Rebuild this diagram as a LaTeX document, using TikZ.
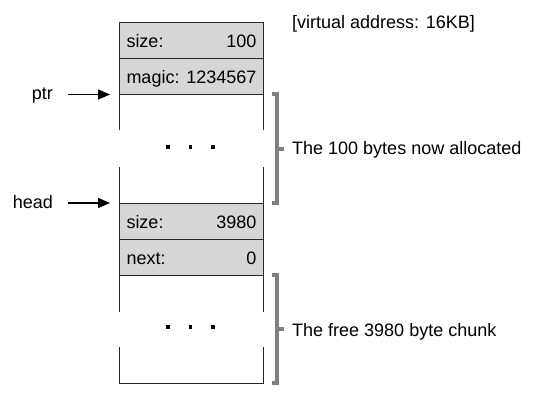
\documentclass[tikz,border=0pt]{standalone}
\usepackage{fontspec}
\setmainfont{Liberation Sans}
\usetikzlibrary{arrows.meta,positioning}

\begin{document}
\begin{tikzpicture}[x=1pt,y=-1pt,>={Triangle[length=12pt,width=10pt]},
                    cell/.style={draw=black!85,line width=1pt,fill=black!16,anchor=north west,
                                 minimum width=144pt,minimum height=36pt,inner sep=0pt,
                                 text width=130pt,text height=14pt,text depth=0pt},
                    lbl/.style={inner sep=0pt,font=\fontsize{18}{22}\selectfont},
                    side/.style={draw=black!85,line width=1pt},
                    brace/.style={draw=black!50,line width=3.2pt},
                    ptrarrow/.style={->,line width=1.6pt}]
	\useasboundingbox (0,0) rectangle (536,401);
	% header cells of the allocated chunk
	\node[cell,font=\fontsize{18}{22}\selectfont]	(size1)	at (119,22)	{size:\hfill 100};
	\node[cell,font=\fontsize{18}{22}\selectfont]	(magic)	at (119,58)	{magic:\hfill 1234567};
	% header cells of the free chunk
	\node[cell,font=\fontsize{18}{22}\selectfont]	(size2)	at (119,203)	{size:\hfill 3980};
	\node[cell,font=\fontsize{18}{22}\selectfont]	(next)	at (119,239)	{next:\hfill 0};
	% the two open regions
	\draw[side] (119,94) -- (119,130) (263,94) -- (263,130)
	            (119,167) -- (119,203) (263,167) -- (263,203);
	\draw[side] (119,275) -- (119,312) (263,275) -- (263,312)
	            (119,347) -- (119,383) -- (263,383) -- (263,347);
	\foreach \x in {168,190.5,213}
	{
		\fill (\x-1.8,145.2) rectangle (\x+1.8,148.8);
		\fill (\x-1.8,325.2) rectangle (\x+1.8,328.8);
	}
	% pointers
	\node[lbl,anchor=base east]	(ptr)	at (53,100)	{ptr};
	\node[lbl,anchor=base east]	(head)	at (53,208)	{head};
	\coordinate (ptrtip)	at (110,94.5);
	\coordinate (headtip)	at (110,203);
	\draw[ptrarrow] ([xshift=15pt]ptr.east |- ptrtip) -- (ptrtip);
	\draw[ptrarrow] ([xshift=15pt]head.east |- headtip) -- (headtip);
	% brackets
	\draw[brace] (272,94) -- (277,94) -- (277,203) -- (272,203) (277,149) -- (284,149);
	\draw[brace] (272,275) -- (277,275) -- (277,383) -- (272,383) (277,329) -- (284,329);
	\node[lbl,anchor=base west]	(alloc)	at (292,155)	{The 100 bytes now allocated};
	\node[lbl,anchor=base west]	(free)	at (292,336)	{The free 3980 byte chunk};
	\node[lbl,anchor=base west]	(vaddr)	at (292,29)	{[virtual address: 16KB]};
\end{tikzpicture}
\end{document}
